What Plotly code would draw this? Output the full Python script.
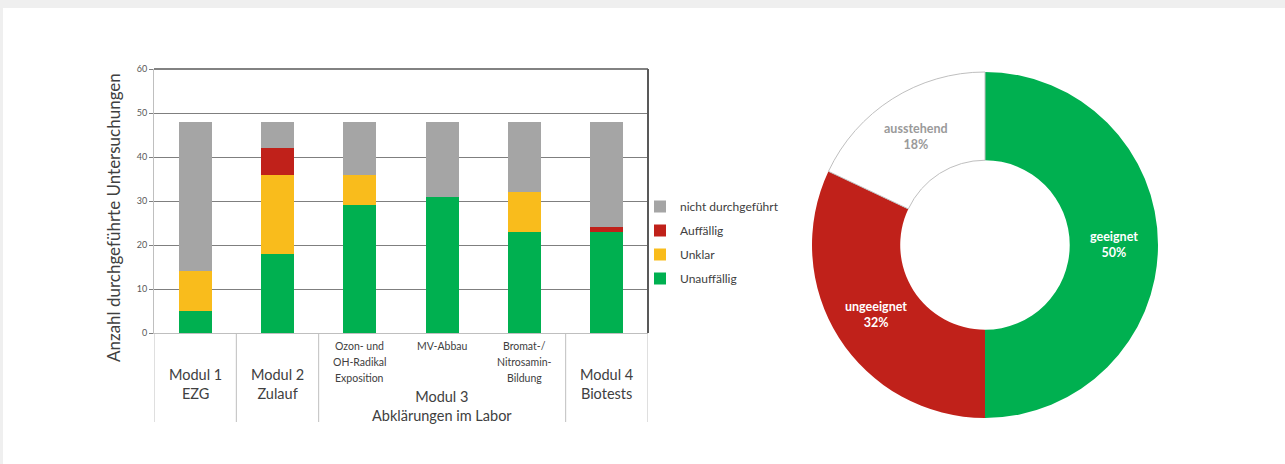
import math
import plotly.graph_objects as go

# --- stacked bar data: number of investigations per module/test ---
tests = ["Modul 1", "Modul 2", "Ozon/OH", "MV-Abbau", "Bromat/Nitrosamin", "Modul 4"]
unauffaellig = [5, 18, 29, 31, 23, 23]
unklar = [9, 18, 7, 0, 9, 0]
auffaellig = [0, 6, 0, 0, 0, 1]
nicht_durchgefuehrt = [34, 6, 12, 17, 16, 24]

series_names = ["Unauffällig", "Unklar", "Auffällig", "nicht durchgeführt"]
series_colors = ["#00B050", "#F9BC1C", "#C0211A", "#A5A5A5"]

# category axis labels: module groups (first index, last index) and sub tests
module_labels = ["Modul 1<br>EZG", "Modul 2<br>Zulauf", "Modul 3<br>Abklärungen im Labor", "Modul 4<br>Biotests"]
module_spans = [(0, 0), (1, 1), (2, 4), (5, 5)]
sub_labels = ["Ozon- und<br>OH-Radikal<br>Exposition", "MV-Abbau", "Bromat-/<br>Nitrosamin-<br>Bildung"]
sub_index = [2, 3, 4]

y_ticks = [0, 10, 20, 30, 40, 50, 60]

# --- donut data ---
donut_labels = ["geeignet", "ungeeignet", "ausstehend"]
donut_values = [50, 32, 18]
donut_colors = ["#00B050", "#C0211A", "#FFFFFF"]
donut_text_colors = ["#FFFFFF", "#FFFFFF", "#9A9A9A"]

W, H = 1285, 464
FONT = "Lato, 'Open Sans', sans-serif"
TXT = "#404040"


def py(px):
    """pixel row from the top -> paper y"""
    return 1 - px / H


fig = go.Figure()

x_pos = list(range(len(tests)))
n_series = len(series_names)
for k, (name, vals, col) in enumerate(zip(series_names, [unauffaellig, unklar, auffaellig, nicht_durchgefuehrt], series_colors)):
    fig.add_trace(go.Bar(
        x=x_pos, y=vals, name=name, width=0.4,
        marker=dict(color=col, line=dict(width=0)),
        legendgroup=name, legendrank=n_series - k,
        xaxis="x", yaxis="y",
    ))

# donut
hole = 0.49
pie_dom_x = [812 / W, 1158 / W]
pie_dom_y = [py(418), py(72)]
fig.add_trace(go.Pie(
    labels=donut_labels, values=donut_values, hole=hole, sort=False,
    direction="clockwise", rotation=0, textinfo="none", showlegend=False,
    automargin=False,
    marker=dict(colors=donut_colors,
                line=dict(color=["#00B050", "#C0211A", "#BFBFBF"], width=[0, 0, 1])),
    domain=dict(x=pie_dom_x, y=pie_dom_y),
    hoverinfo="label+percent",
))

# donut labels placed at the middle of each ring segment
total = sum(donut_values)
cx = (pie_dom_x[0] + pie_dom_x[1]) / 2
cy = (pie_dom_y[0] + pie_dom_y[1]) / 2
r_out = min((pie_dom_x[1] - pie_dom_x[0]) * W, (pie_dom_y[1] - pie_dom_y[0]) * H) / 2
r_mid = r_out * (1 + hole) / 2
annotations = []
cum = 0
for lab, v, tc in zip(donut_labels, donut_values, donut_text_colors):
    mid = (cum + v / 2) / total * 2 * math.pi
    cum += v
    annotations.append(dict(
        x=cx + r_mid * math.sin(mid) / W, y=cy + r_mid * math.cos(mid) / H,
        xref="paper", yref="paper", showarrow=False,
        text=f"<b>{lab}<br>{round(v / total * 100)}%</b>",
        font=dict(family=FONT, size=12.5, color=tc),
        xanchor="center", yanchor="middle",
    ))

# bar plot geometry
bx0, bx1 = 154 / W, 648 / W
by0, by1 = py(333), py(69)
label_bottom = py(422)

# category labels
for lab, (a, b) in zip(module_labels, module_spans):
    multi = a != b
    annotations.append(dict(
        x=(a + b) / 2, xref="x", y=py(406 if multi else 384), yref="paper",
        text=lab, showarrow=False, xanchor="center", yanchor="middle",
        font=dict(family=FONT, size=14.5, color=TXT),
    ))
for lab, i in zip(sub_labels, sub_index):
    for j, line in enumerate(lab.split("<br>")):
        annotations.append(dict(
            x=i, xref="x", y=py(346 + 16 * j), yref="paper",
            text=line, showarrow=False, xanchor="center", yanchor="middle",
            font=dict(family=FONT, size=10.5, color=TXT),
        ))

# y-axis title
annotations.append(dict(
    x=113 / W, y=py(218), xref="paper", yref="paper", textangle=-90,
    text="Anzahl durchgeführte Untersuchungen", showarrow=False,
    xanchor="center", yanchor="middle",
    font=dict(family=FONT, size=17, color=TXT),
))

shapes = [
    # page frame strips
    dict(type="rect", xref="paper", yref="paper", x0=0, x1=1, y0=py(8), y1=1,
         fillcolor="#EFEFEF", line=dict(width=0), layer="below"),
    dict(type="rect", xref="paper", yref="paper", x0=0, x1=3 / W, y0=0, y1=1,
         fillcolor="#EFEFEF", line=dict(width=0), layer="below"),
    # top and right border of the plot area
    dict(type="line", xref="paper", yref="paper", x0=bx0, x1=bx1, y0=by1, y1=by1,
         line=dict(color="#595959", width=1.5)),
    dict(type="line", xref="paper", yref="paper", x0=bx1, x1=bx1, y0=by0, y1=by1,
         line=dict(color="#595959", width=2)),
]
# group separators below the axis
bounds = [module_spans[0][0] - 0.5] + [b + 0.5 for (_, b) in module_spans]
for xb in bounds:
    shapes.append(dict(type="line", xref="x", yref="paper", x0=xb, x1=xb,
                       y0=label_bottom, y1=by0,
                       line=dict(color="#BFBFBF", width=1)))

fig.update_layout(
    width=W, height=H, autosize=False,
    margin=dict(l=0, r=0, t=0, b=0, pad=0, autoexpand=False),
    paper_bgcolor="white", plot_bgcolor="white",
    barmode="stack", bargap=0.6,
    font=dict(family=FONT, color=TXT),
    xaxis=dict(domain=[bx0, bx1], range=[-0.5, len(tests) - 0.5], automargin=False,
               showticklabels=False, showgrid=False, zeroline=False,
               showline=True, linecolor="#BFBFBF", linewidth=1, ticks=""),
    yaxis=dict(domain=[by0, by1], range=[0, 60], tickvals=y_ticks, automargin=False,
               showgrid=True, gridcolor="#7F7F7F", gridwidth=1,
               zeroline=False, showline=True, linecolor="#BFBFBF", linewidth=1,
               ticks="outside", ticklen=4, tickcolor="#7F7F7F",
               tickfont=dict(family=FONT, size=9, color="#595959")),
    legend=dict(x=640 / W, y=py(192), xanchor="left", yanchor="top",
                traceorder="grouped", tracegroupgap=5,
                font=dict(family=FONT, size=12, color=TXT),
                bgcolor="rgba(0,0,0,0)"),
    annotations=annotations,
    shapes=shapes,
)

fig.write_html("out.html")
